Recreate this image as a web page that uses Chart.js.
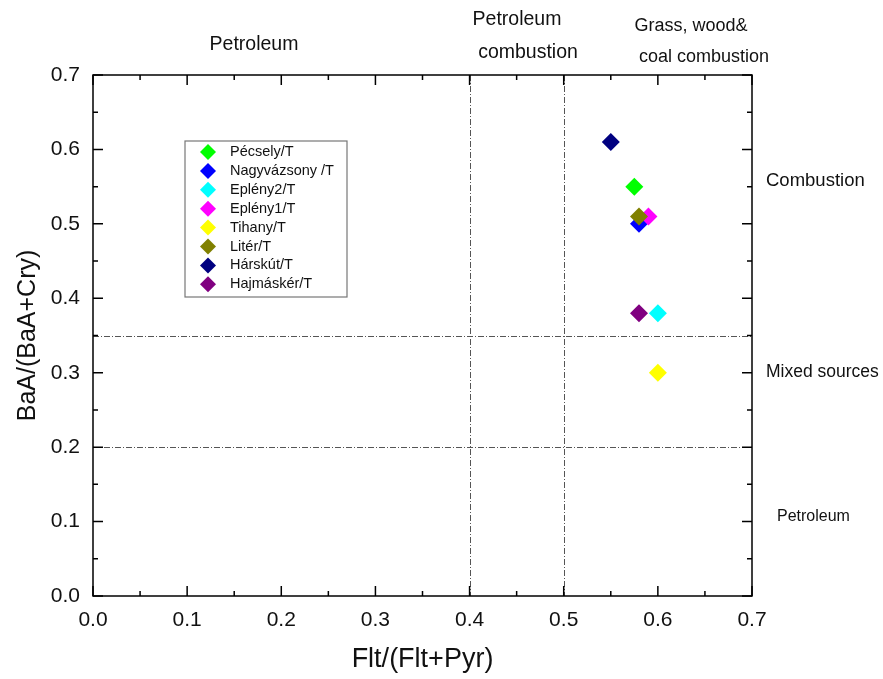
<!DOCTYPE html>
<html>
<head>
<meta charset="utf-8">
<script src="https://cdn.jsdelivr.net/npm/chart.js@4"></script>
<style>
  html, body { margin: 0; padding: 0; background: #fff; }
  #wrap { width: 883px; height: 679px; }
</style>
</head>
<body>
<div id="wrap"><canvas id="grafico" width="883" height="679"></canvas></div>
<script>
// sites (legend order)
const sites = ['Pécsely/T', 'Nagyvázsony /T', 'Eplény2/T', 'Eplény1/T', 'Tihany/T', 'Litér/T', 'Hárskút/T', 'Hajmáskér/T'];
// Flt/(Flt+Pyr)
const fltRatio = [0.575, 0.58, 0.60, 0.59, 0.60, 0.58, 0.55, 0.58];
// BaA/(BaA+Cry)
const baaRatio = [0.55, 0.50, 0.38, 0.51, 0.30, 0.51, 0.61, 0.38];
const siteColors = ['#00ff00', '#0000ff', '#00ffff', '#ff00ff', '#ffff00', '#808000', '#000080', '#800080'];

const xTicks = [0, 0.1, 0.2, 0.3, 0.4, 0.5, 0.6, 0.7];
const yTicks = [0, 0.1, 0.2, 0.3, 0.4, 0.5, 0.6, 0.7];
const xLimits = [0.4, 0.5];   // vertical source boundaries
const yLimits = [0.2, 0.35];  // horizontal source boundaries

const topLabels = ['Petroleum', 'Petroleum', 'combustion', 'Grass, wood&', 'coal combustion'];
const sideLabels = ['Combustion', 'Mixed sources', 'Petroleum'];

const FONT = '"Liberation Sans", Arial, sans-serif';
const INK = '#111';

const frameTicks = {
    id: 'frameTicks',
    beforeDatasetsDraw(chart) {
        const ctx = chart.ctx;
        const xs = chart.scales.x, ys = chart.scales.y;
        const a = chart.chartArea;
        ctx.save();
        // dash-dot boundary lines
        ctx.strokeStyle = '#555';
        ctx.lineWidth = 1;
        ctx.setLineDash([6, 2, 1, 2]);
        xLimits.forEach(v => {
            const px = Math.round(xs.getPixelForValue(v)) + 0.5;
            ctx.beginPath(); ctx.moveTo(px, a.top); ctx.lineTo(px, a.bottom); ctx.stroke();
        });
        yLimits.forEach(v => {
            const py = Math.round(ys.getPixelForValue(v)) + 0.5;
            ctx.beginPath(); ctx.moveTo(a.left, py); ctx.lineTo(a.right, py); ctx.stroke();
        });
        ctx.setLineDash([]);

        // frame
        ctx.strokeStyle = '#000';
        ctx.lineWidth = 1.5;
        ctx.strokeRect(a.left, a.top, a.right - a.left, a.bottom - a.top);

        // inward ticks, major and minor
        for (let i = 0; i <= 14; i++) {
            const v = i * 0.05;
            const len = i % 2 === 0 ? 10 : 5;
            const px = xs.getPixelForValue(v);
            ctx.beginPath();
            ctx.moveTo(px, a.bottom); ctx.lineTo(px, a.bottom - len);
            ctx.moveTo(px, a.top); ctx.lineTo(px, a.top + len);
            ctx.stroke();
            const py = ys.getPixelForValue(v);
            ctx.beginPath();
            ctx.moveTo(a.left, py); ctx.lineTo(a.left + len, py);
            ctx.moveTo(a.right, py); ctx.lineTo(a.right - len, py);
            ctx.stroke();
        }
        ctx.restore();
    },
    afterDatasetsDraw(chart) {
        const ctx = chart.ctx;
        const a = chart.chartArea;
        ctx.save();

        // legend box
        const lx = a.left + 92, ly = a.top + 66, lw = 162, lh = 156;
        ctx.fillStyle = '#fff';
        ctx.fillRect(lx, ly, lw, lh);
        ctx.strokeStyle = '#777';
        ctx.lineWidth = 1.2;
        ctx.strokeRect(lx, ly, lw, lh);
        ctx.font = '14.5px ' + FONT;
        ctx.textBaseline = 'middle';
        ctx.textAlign = 'left';
        sites.forEach((s, i) => {
            const cy = ly + 11 + i * 18.9;
            const r = 8;
            ctx.fillStyle = siteColors[i];
            ctx.beginPath();
            ctx.moveTo(lx + 23, cy - r); ctx.lineTo(lx + 23 + r, cy);
            ctx.lineTo(lx + 23, cy + r); ctx.lineTo(lx + 23 - r, cy);
            ctx.closePath(); ctx.fill();
            ctx.fillStyle = INK;
            ctx.fillText(s, lx + 45, cy);
        });

        // region labels
        ctx.fillStyle = INK;
        ctx.textAlign = 'center';
        const topPos = [[254, 45], [517, 20], [528, 53], [691, 26], [704, 57]];
        const topSize = [19.5, 19.5, 19.5, 18, 18];
        topLabels.forEach((t, i) => {
            ctx.font = topSize[i] + 'px ' + FONT;
            ctx.fillText(t, topPos[i][0], topPos[i][1]);
        });
        ctx.textAlign = 'left';
        ctx.font = '18.5px ' + FONT;
        ctx.fillText(sideLabels[0], 766, 181);
        ctx.font = '17.5px ' + FONT;
        ctx.fillText(sideLabels[1], 766, 372);
        ctx.font = '16px ' + FONT;
        ctx.fillText(sideLabels[2], 777, 517);
        ctx.restore();
    }
};

const datasets = sites.map((s, i) => ({
    label: s,
    data: [{ x: fltRatio[i], y: baaRatio[i] }],
    pointStyle: 'rectRot',
    pointRadius: 9,
    pointHoverRadius: 9,
    backgroundColor: siteColors[i],
    borderColor: siteColors[i],
    borderWidth: 0,
    order: -i
}));

new Chart(document.getElementById('grafico'), {
    type: 'scatter',
    data: { datasets: datasets },
    plugins: [frameTicks],
    options: {
        responsive: false,
        animation: false,
        layout: { padding: { top: 75, right: 131, left: 0, bottom: 0 } },
        plugins: { legend: { display: false }, tooltip: { enabled: false } },
        scales: {
            x: {
                type: 'linear', min: 0, max: 0.7,
                afterBuildTicks: s => { s.ticks = xTicks.map(v => ({ value: v })); },
                afterFit: s => { s.height = 83; },
                grid: { display: false, drawTicks: false },
                border: { display: false },
                ticks: { padding: 12, color: INK, font: { family: FONT, size: 21 }, callback: v => v.toFixed(1), maxRotation: 0, autoSkip: false },
                title: { display: true, text: 'Flt/(Flt+Pyr)', color: INK, font: { family: FONT, size: 27 }, padding: { top: 0, bottom: 3 } }
            },
            y: {
                type: 'linear', min: 0, max: 0.7,
                afterBuildTicks: s => { s.ticks = yTicks.map(v => ({ value: v })); },
                afterFit: s => { s.width = 93; },
                grid: { display: false, drawTicks: false },
                border: { display: false },
                ticks: { padding: 13, color: INK, font: { family: FONT, size: 21 }, callback: v => v.toFixed(1), autoSkip: false },
                title: { display: true, text: 'BaA/(BaA+Cry)', color: INK, font: { family: FONT, size: 25 }, padding: { top: 13, bottom: 0 } }
            }
        }
    }
});
</script>
</body>
</html>
